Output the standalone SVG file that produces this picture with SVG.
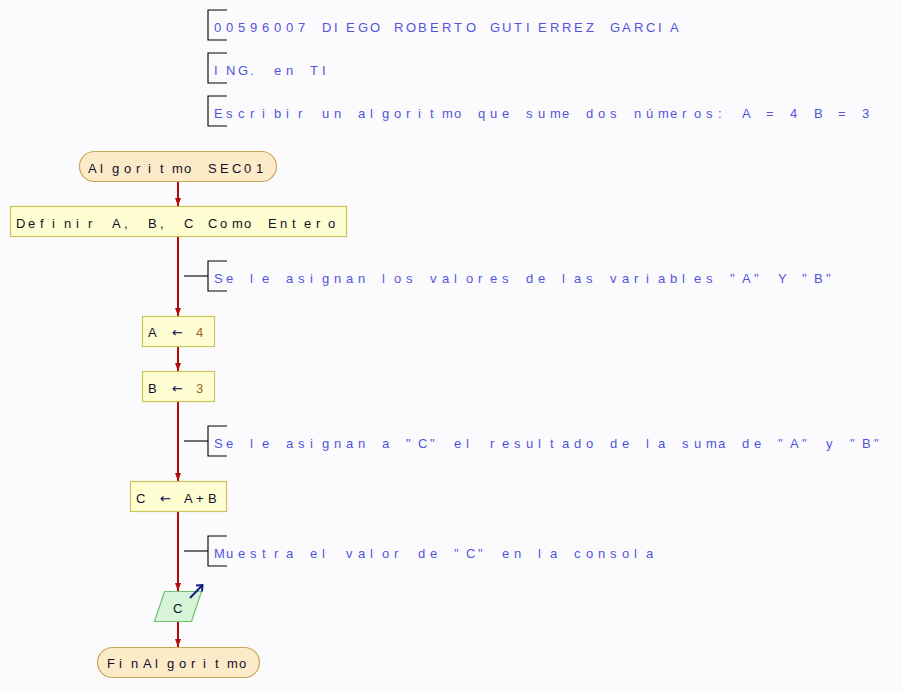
<svg xmlns="http://www.w3.org/2000/svg" width="902" height="691" viewBox="0 0 902 691">
<defs>
<style>
text{font-family:"Liberation Sans",Arial,sans-serif;font-size:13px;}
.cm{fill:#5353dc;}
.nt{fill:#101028;}
.num{fill:#a0642c;}
.ar{fill:#000050;font-family:"DejaVu Sans",sans-serif;}
.br{fill:none;stroke:#000;stroke-width:1.1;}
.flow{stroke:#b30c0c;stroke-width:2;fill:none;}
.term{fill:#fcebc8;stroke:#c9a55a;stroke-width:1.2;}
.proc{fill:#fffed3;stroke:#cbc45a;stroke-width:1.2;}
.io{fill:#d8f4d8;stroke:#6fbf6f;stroke-width:1.2;}
</style>
<marker id="ah" viewBox="0 0 8 6" refX="8" refY="3" markerWidth="8" markerHeight="6" markerUnits="userSpaceOnUse" orient="auto">
<path d="M0,0 L8,3 L0,6 Z" fill="#b30c0c"/>
</marker>
</defs>
<rect x="0" y="0" width="902" height="691" fill="#fbfbfd"/>

<g id="comment-header1">
<path class="br" d="M227,10 H208 V40 H227"/>
<text class="cm" y="31.7" x="214 226 238 250 262 274 286 298 310 322 334 346 358 370 382 394 406 418 430 442 454 466 478 490 502 514 526 538 550 562 574 586 598 610 622 634 646 658 670">00596007 DIEGO ROBERTO GUTIERREZ GARCIA</text>
</g>
<g id="comment-header2">
<path class="br" d="M227,53 H208 V83 H227"/>
<text class="cm" y="74.5" x="214 226 238 250 262 274 286 298 310 322">ING. en TI</text>
</g>
<g id="comment-header3">
<path class="br" d="M227,96 H208 V126 H227"/>
<text class="cm" y="117.7" x="214 226 238 250 262 274 286 298 310 322 334 346 358 370 382 394 406 418 430 442 454 466 478 490 502 514 526 538 550 562 574 586 598 610 622 634 646 658 670 682 694 706 718 730 742 754 766 778 790 802 814 826 838 850 862">Escribir un algoritmo que sume dos números: A = 4 B = 3</text>
</g>

<g id="connectors">
<line class="flow" x1="178" y1="181" x2="178" y2="206" marker-end="url(#ah)"/>
<line class="flow" x1="178" y1="236" x2="178" y2="316" marker-end="url(#ah)"/>
<line class="flow" x1="178" y1="347" x2="178" y2="371" marker-end="url(#ah)"/>
<line class="flow" x1="178" y1="402" x2="178" y2="481" marker-end="url(#ah)"/>
<line class="flow" x1="178" y1="512" x2="178" y2="591" marker-end="url(#ah)"/>
<line class="flow" x1="178" y1="621" x2="178" y2="647" marker-end="url(#ah)"/>
</g>

<g id="start">
<rect class="term" x="79.5" y="151.5" width="197" height="30" rx="15" ry="15"/>
<text class="nt" y="173.3" x="88 100 112 124 136 148 160 172 184 196 208 220 232 244 256">Algoritmo SEC01</text>
</g>

<g id="define">
<rect class="proc" x="10.5" y="206.5" width="336" height="30"/>
<text class="nt" y="228.3" x="16 28 40 52 64 76 88 100 112 124 136 148 160 172 184 196 208 220 232 244 256 268 280 292 304 316 328">Definir A, B, C Como Entero</text>
</g>

<g id="comment1">
<line class="br" x1="184" y1="276" x2="208" y2="276"/>
<path class="br" d="M227,261 H208 V291 H227"/>
<text class="cm" y="283.3" x="214 226 238 250 262 274 286 298 310 322 334 346 358 370 382 394 406 418 430 442 454 466 478 490 502 514 526 538 550 562 574 586 598 610 622 634 646 658 670 682 694 706 718 730 742 754 766 778 790 802 814 826">Se le asignan los valores de las variables "A" Y "B"</text>
</g>

<g id="assignA">
<rect class="proc" x="142.5" y="316.5" width="72" height="30"/>
<text class="nt" y="337.3"><tspan x="148">A</tspan><tspan class="ar" x="172">←</tspan><tspan class="num" x="196">4</tspan></text>
</g>

<g id="assignB">
<rect class="proc" x="142.5" y="371.5" width="72" height="30"/>
<text class="nt" y="392.5"><tspan x="148">B</tspan><tspan class="ar" x="172">←</tspan><tspan class="num" x="196">3</tspan></text>
</g>

<g id="comment2">
<line class="br" x1="184" y1="441" x2="208" y2="441"/>
<path class="br" d="M227,426 H208 V456 H227"/>
<text class="cm" y="448" x="214 226 238 250 262 274 286 298 310 322 334 346 358 370 382 394 406 418 430 442 454 466 478 490 502 514 526 538 550 562 574 586 598 610 622 634 646 658 670 682 694 706 718 730 742 754 766 778 790 802 814 826 838 850 862 874">Se le asignan a "C" el resultado de la suma de "A" y "B"</text>
</g>

<g id="assignC">
<rect class="proc" x="130.5" y="481.5" width="96" height="30"/>
<text class="nt" y="503.3"><tspan x="136">C</tspan><tspan class="ar" x="160">←</tspan><tspan x="184 196 208">A+B</tspan></text>
</g>

<g id="comment3">
<line class="br" x1="184" y1="551" x2="208" y2="551"/>
<path class="br" d="M227,536 H208 V566 H227"/>
<text class="cm" y="558" x="214 226 238 250 262 274 286 298 310 322 334 346 358 370 382 394 406 418 430 442 454 466 478 490 502 514 526 538 550 562 574 586 598 610 622 634 646">Muestra el valor de "C" en la consola</text>
</g>

<g id="output">
<path class="io" d="M164.5,591.5 H201.5 L191.5,621.5 H154.5 Z"/>
<text class="nt" x="173" y="612.8">C</text>
<path d="M190,598 L202.5,585 M196,585.5 L202.5,585 L202,591.5" fill="none" stroke="#102080" stroke-width="2"/>
</g>

<g id="end">
<rect class="term" x="97.5" y="647.5" width="162" height="30" rx="15" ry="15"/>
<text class="nt" y="668.3" x="107 119 131 143 155 167 179 191 203 215 227 239">FinAlgoritmo</text>
</g>
</svg>
